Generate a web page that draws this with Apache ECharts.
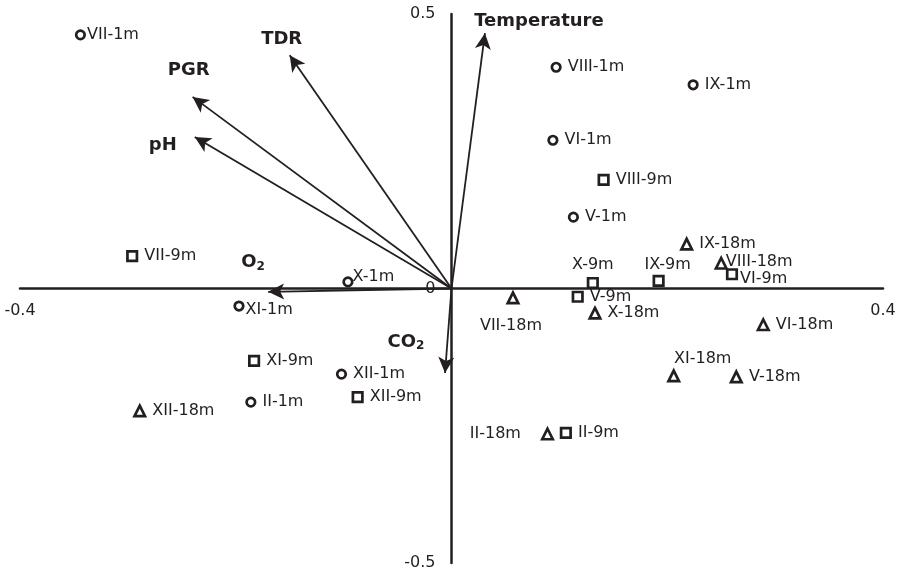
<!DOCTYPE html>
<html>
<head>
<meta charset="utf-8">
<script src="https://cdn.jsdelivr.net/npm/echarts@6/dist/echarts.min.js"></script>
<style>
  html, body { margin: 0; padding: 0; background: #fff; }
  #chart { width: 898px; height: 572px; }
</style>
</head>
<body>
<div id="chart"></div>
<script>
// sample scores (axis 1, axis 2), one set per depth
const names1m = ['VII-1m', 'VIII-1m', 'IX-1m', 'VI-1m', 'V-1m', 'X-1m', 'XI-1m', 'XII-1m', 'II-1m'];
const x1m = [-0.344, 0.097, 0.224, 0.094, 0.113, -0.096, -0.197, -0.102, -0.186];
const y1m = [0.462, 0.403, 0.371, 0.270, 0.130, 0.012, -0.032, -0.156, -0.207];

const names9m = ['VII-9m', 'VIII-9m', 'VI-9m', 'X-9m', 'IX-9m', 'V-9m', 'XI-9m', 'XII-9m', 'II-9m'];
const x9m = [-0.296, 0.141, 0.260, 0.131, 0.192, 0.117, -0.183, -0.087, 0.106];
const y9m = [0.059, 0.198, 0.026, 0.010, 0.014, -0.015, -0.132, -0.198, -0.263];

const names18m = ['IX-18m', 'VIII-18m', 'VII-18m', 'X-18m', 'VI-18m', 'XI-18m', 'V-18m', 'II-18m', 'XII-18m'];
const x18m = [0.218, 0.250, 0.057, 0.133, 0.289, 0.206, 0.264, 0.089, -0.289];
const y18m = [0.081, 0.046, -0.017, -0.045, -0.066, -0.159, -0.161, -0.265, -0.223];

// environmental variables (arrow tips)
const vecNames = ['Temperature', 'TDR', 'PGR', 'pH', 'O2', 'CO2'];
const vecX = [0.031, -0.150, -0.240, -0.238, -0.170, -0.006];
const vecY = [0.465, 0.425, 0.349, 0.276, -0.006, -0.154];

const xTicks = [-0.4, 0, 0.4];
const yTicks = [-0.5, 0, 0.5];

const ink = '#231f20';
const font = 'DejaVu Sans';

// label placement that differs from the default "right of the marker"
const labelTweak = {
  'VII-1m': { offset: [-5, 0] },
  'X-1m': { offset: [-7, -5] },
  'XI-1m': { offset: [-5, 4] },
  'VIII-18m': { offset: [-8, -1] },
  'VI-9m': { offset: [-4, 5] },
  'X-9m': { position: 'top', distance: 4 },
  'IX-9m': { position: 'top', distance: 2, offset: [9, 0] },
  'XI-18m': { position: 'top', distance: 2, offset: [29, 0] },
  'VII-18m': { position: 'bottom', distance: 13, offset: [-2, 0] },
  'II-18m': { position: 'left', distance: 20 }
};

// where the variable names sit relative to the arrow tip
const vecLabelOffset = {
  'Temperature': [54, -12],
  'TDR': [-8, -16],
  'PGR': [-4, -27],
  'pH': [-32, 8],
  'O2': [-15, -29],
  'CO2': [-39, -31]
};
const vecLabelText = {
  'O2': 'O{s|2}',
  'CO2': 'CO{s|2}'
};

function siteSeries(name, names, xs, ys, symbol, size) {
  return {
    name: name,
    type: 'scatter',
    symbol: symbol,
    symbolSize: size,
    z: 5,
    itemStyle: { color: '#fff', borderColor: ink, borderWidth: 2.7, opacity: 1 },
    label: {
      show: true,
      position: 'right',
      distance: 6,
      color: ink,
      fontFamily: font,
      fontSize: 16,
      formatter: '{b}'
    },
    emphasis: { disabled: true },
    data: names.map((n, i) => ({ name: n, value: [xs[i], ys[i]], label: labelTweak[n] || {} }))
  };
}

const chart = echarts.init(document.getElementById('chart'));

// grid box; the axes are shifted onto the zero lines so their labels follow
const gridBox = { left: 20, right: 15, top: 14, bottom: 9 };
const gridW = 898 - gridBox.left - gridBox.right;
const gridH = 572 - gridBox.top - gridBox.bottom;
const xZeroShift = -gridH * (0 - yTicks[0]) / (yTicks[yTicks.length - 1] - yTicks[0]);
const yZeroShift = -gridW * (0 - xTicks[0]) / (xTicks[xTicks.length - 1] - xTicks[0]);

const option = {
  animation: false,
  backgroundColor: '#fff',
  grid: Object.assign({ outerBoundsMode: 'none' }, gridBox),
  xAxis: {
    type: 'value',
    min: xTicks[0],
    max: xTicks[xTicks.length - 1],
    interval: xTicks[1] - xTicks[0],
    offset: xZeroShift,
    axisLine: { onZero: false, lineStyle: { color: ink, width: 2.5 } },
    axisTick: { show: false },
    splitLine: { show: false },
    axisLabel: {
      color: ink,
      fontFamily: font,
      fontSize: 16,
      margin: 14,
      formatter: v => (v === 0 ? '' : String(v))
    }
  },
  yAxis: {
    type: 'value',
    min: yTicks[0],
    max: yTicks[yTicks.length - 1],
    interval: yTicks[1] - yTicks[0],
    offset: yZeroShift,
    axisLine: { onZero: false, lineStyle: { color: ink, width: 2.5 } },
    axisTick: { show: false },
    splitLine: { show: false },
    axisLabel: {
      color: ink,
      fontFamily: font,
      fontSize: 16,
      margin: 16,
      formatter: v => String(v)
    }
  },
  series: [
    {
      name: 'variables',
      type: 'scatter',
      symbolSize: 0,
      silent: true,
      z: 3,
      itemStyle: { opacity: 1 },
      label: {
        show: true,
        position: 'inside',
        align: 'center',
        verticalAlign: 'middle',
        color: ink,
        fontFamily: font,
        fontSize: 18,
        fontWeight: 'bold',
        rich: {
          s: { fontFamily: font, fontSize: 12, fontWeight: 'bold', color: ink, verticalAlign: 'bottom', padding: [8, 0, 0, 0] }
        }
      },
      data: vecNames.map((n, i) => ({
        name: n,
        value: [vecX[i], vecY[i]],
        label: { offset: vecLabelOffset[n], formatter: vecLabelText[n] || n }
      })),
      markLine: {
        silent: true,
        symbol: ['none', 'arrow'],
        symbolSize: [12, 16],
        label: { show: false },
        lineStyle: { color: ink, width: 1.8, type: 'solid', opacity: 1 },
        emphasis: { disabled: true },
        data: vecNames.map((n, i) => [
          { coord: [0, 0] },
          { coord: [vecX[i], vecY[i]] }
        ])
      }
    },
    siteSeries('1m', names1m, x1m, y1m, 'circle', 8.5),
    siteSeries('9m', names9m, x9m, y9m, 'rect', 9.5),
    siteSeries('18m', names18m, x18m, y18m, 'triangle', 10.5)
  ]
};

chart.setOption(option);
</script>
</body>
</html>
